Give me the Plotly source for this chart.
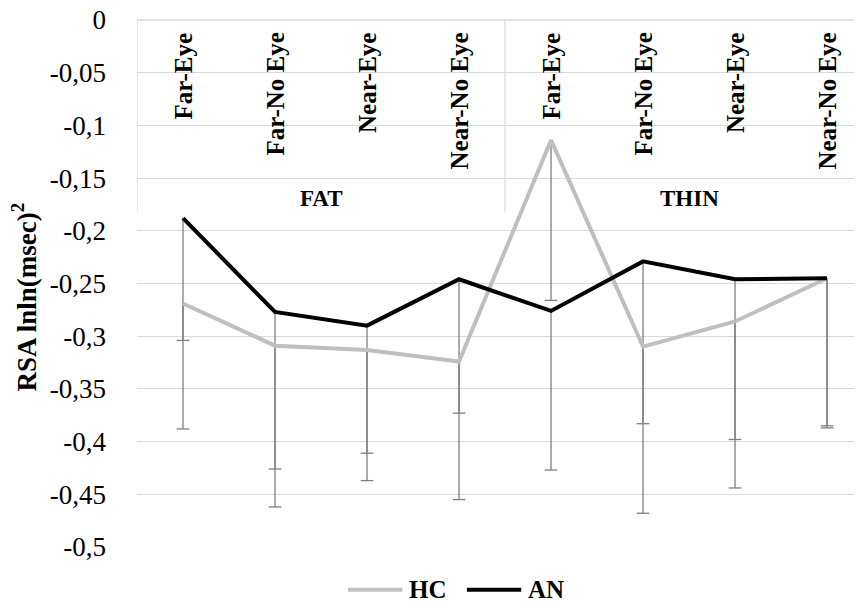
import plotly.graph_objects as go

# ---- data ----
groups = ["FAT", "THIN"]
conditions = ["Far-Eye", "Far-No Eye", "Near-Eye", "Near-No Eye"]
series_names = ["HC", "AN"]
hc_mean = [-0.269, -0.309, -0.313, -0.324, -0.114, -0.310, -0.286, -0.245]
an_mean = [-0.188, -0.277, -0.290, -0.246, -0.276, -0.229, -0.246, -0.245]
hc_err = [0.119, 0.153, 0.124, 0.131, 0.152, 0.158, 0.158, 0.142]
an_err = [0.116, 0.149, 0.121, 0.127, 0.151, 0.154, 0.152, 0.140]
y_tick_vals = [0, -0.05, -0.1, -0.15, -0.2, -0.25, -0.3, -0.35, -0.4, -0.45, -0.5]
y_tick_text = ["0", "-0,05", "-0,1", "-0,15", "-0,2", "-0,25", "-0,3", "-0,35",
               "-0,4", "-0,45", "-0,5"]
y_title = "RSA lnln(msec)<sup>2</sup>"

# ---- styles ----
FONT = "Liberation Serif"
HC_COLOR = "#BFBFBF"
AN_COLOR = "#000000"
ERR_COLOR = "#7F7F7F"
GRID = "#D9D9D9"

n_cond = len(conditions)
x_pos = list(range(len(groups) * n_cond))

fig = go.Figure()


def add_err(means, errs):
    xs, ys = [], []
    for x, m, e in zip(x_pos, means, errs):
        xs += [x, x, None]
        ys += [m, m - e, None]
    fig.add_trace(go.Scatter(x=xs, y=ys, mode="lines",
                             line=dict(color=ERR_COLOR, width=1.3),
                             showlegend=False, hoverinfo="skip"))
    fig.add_trace(go.Scatter(x=x_pos, y=[m - e for m, e in zip(means, errs)],
                             mode="markers",
                             marker=dict(symbol="line-ew", size=9,
                                         line=dict(color=ERR_COLOR, width=1.3)),
                             showlegend=False, hoverinfo="skip"))


add_err(hc_mean, hc_err)
add_err(an_mean, an_err)

fig.add_trace(go.Scatter(x=x_pos, y=hc_mean, mode="lines", name=series_names[0],
                         line=dict(color=HC_COLOR, width=4), showlegend=False))
fig.add_trace(go.Scatter(x=x_pos, y=an_mean, mode="lines", name=series_names[1],
                         line=dict(color=AN_COLOR, width=4), showlegend=False))

annotations = []
# condition labels (rotated, inside the plot at the top)
for gi, g in enumerate(groups):
    for ci, c in enumerate(conditions):
        annotations.append(dict(
            x=gi * n_cond + ci, y=1, xref="x", yref="paper",
            text="<b>%s</b>" % c, textangle=-90, showarrow=False,
            xanchor="center", yanchor="top", yshift=-11,
            font=dict(family=FONT, size=25, color="black")))
    annotations.append(dict(
        x=gi * n_cond + (n_cond - 1) / 2, y=0.662, xref="x", yref="paper",
        text="<b>%s</b>" % g, showarrow=False, xanchor="center", yanchor="middle",
        font=dict(family=FONT, size=23, color="black")))

# y-axis title
annotations.append(dict(
    x=0, y=0.5, xref="paper", yref="paper", text="<b>%s</b>" % y_title,
    textangle=-90, showarrow=False, xanchor="center", yanchor="middle",
    xshift=-113, yshift=-14, font=dict(family=FONT, size=27, color="black")))

shapes = [dict(type="line", xref="paper", yref="paper", x0=0, x1=1, y0=1, y1=1,
               line=dict(color=GRID, width=1.3))]
for gi in range(len(groups) + 1):
    shapes.append(dict(type="line", xref="x", yref="paper",
                       x0=gi * n_cond - 0.5, x1=gi * n_cond - 0.5, y0=1, y1=0.636,
                       line=dict(color=GRID, width=1.3)))

# manual legend below the plot
legend_items = [(series_names[0], HC_COLOR, 0.291), (series_names[1], AN_COLOR, 0.455)]
for name, col, x0 in legend_items:
    shapes.append(dict(type="line", xref="paper", yref="paper",
                       x0=x0, x1=x0 + 0.075, y0=-0.081, y1=-0.081,
                       line=dict(color=col, width=4)))
    annotations.append(dict(x=x0 + 0.081, y=-0.081, xref="paper", yref="paper",
                            text="<b>%s</b>" % name, showarrow=False,
                            xanchor="left", yanchor="middle",
                            font=dict(family=FONT, size=25, color="black")))

# the page body adds an 8px offset, so the figure is 8px smaller on each axis
fig.update_layout(
    width=854, height=596,
    margin=dict(l=129, r=0, t=12, b=57, autoexpand=False),
    paper_bgcolor="white", plot_bgcolor="white",
    showlegend=False,
    xaxis=dict(range=[-0.5, 7.38], showticklabels=False, showgrid=False,
               zeroline=False, showline=False, ticks=""),
    yaxis=dict(range=[-0.5, 0], tickvals=y_tick_vals, ticktext=y_tick_text,
               showgrid=True, gridcolor=GRID, gridwidth=1.3,
               zeroline=False, showline=False, ticks="", ticklabelstandoff=30,
               ticklabeloverflow="allow",
               tickfont=dict(family=FONT, size=27, color="black"),
               automargin=False),
    annotations=annotations,
    shapes=shapes,
)

fig.write_html("out.html")
